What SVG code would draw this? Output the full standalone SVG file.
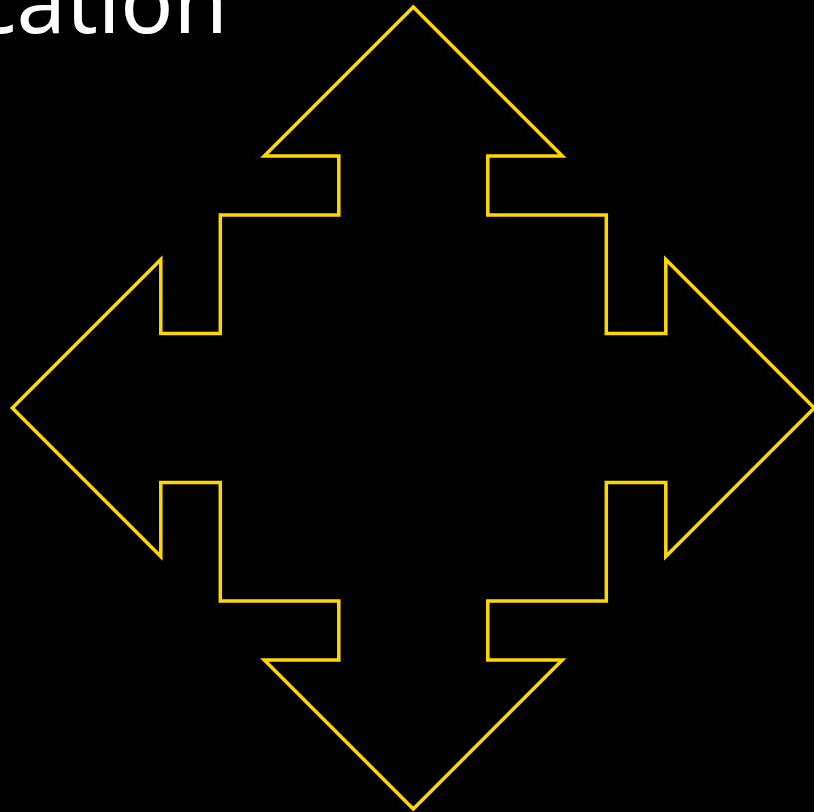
<svg xmlns="http://www.w3.org/2000/svg" width="814" height="812" viewBox="0 0 814 812">
<style>
.bg{fill:#000}
.title{fill:#fff;font-family:"Noto Sans","Open Sans",sans-serif;font-size:88px}
.arrow{fill:none;stroke:#FFD700;stroke-width:3.5;stroke-linejoin:miter}
</style>
<rect class="bg" x="0" y="0" width="814" height="812"/>
<text class="title" x="228" y="33" text-anchor="end">cation</text>
<g id="four-way-arrow" transform="translate(413.3,408)">
<path class="arrow" d="M0,-401 L149,-252 L74.5,-252 L74.5,-193 L193,-193 L193,-74.5 L252.5,-74.5 L252.5,-148.5 L401,0 L252.5,148.5 L252.5,74.5 L193,74.5 L193,193 L74.5,193 L74.5,252 L149,252 L0,401 L-149,252 L-74.5,252 L-74.5,193 L-193,193 L-193,74.5 L-252.5,74.5 L-252.5,148.5 L-401,0 L-252.5,-148.5 L-252.5,-74.5 L-193,-74.5 L-193,-193 L-74.5,-193 L-74.5,-252 L-149,-252 Z"/>
</g>
</svg>
